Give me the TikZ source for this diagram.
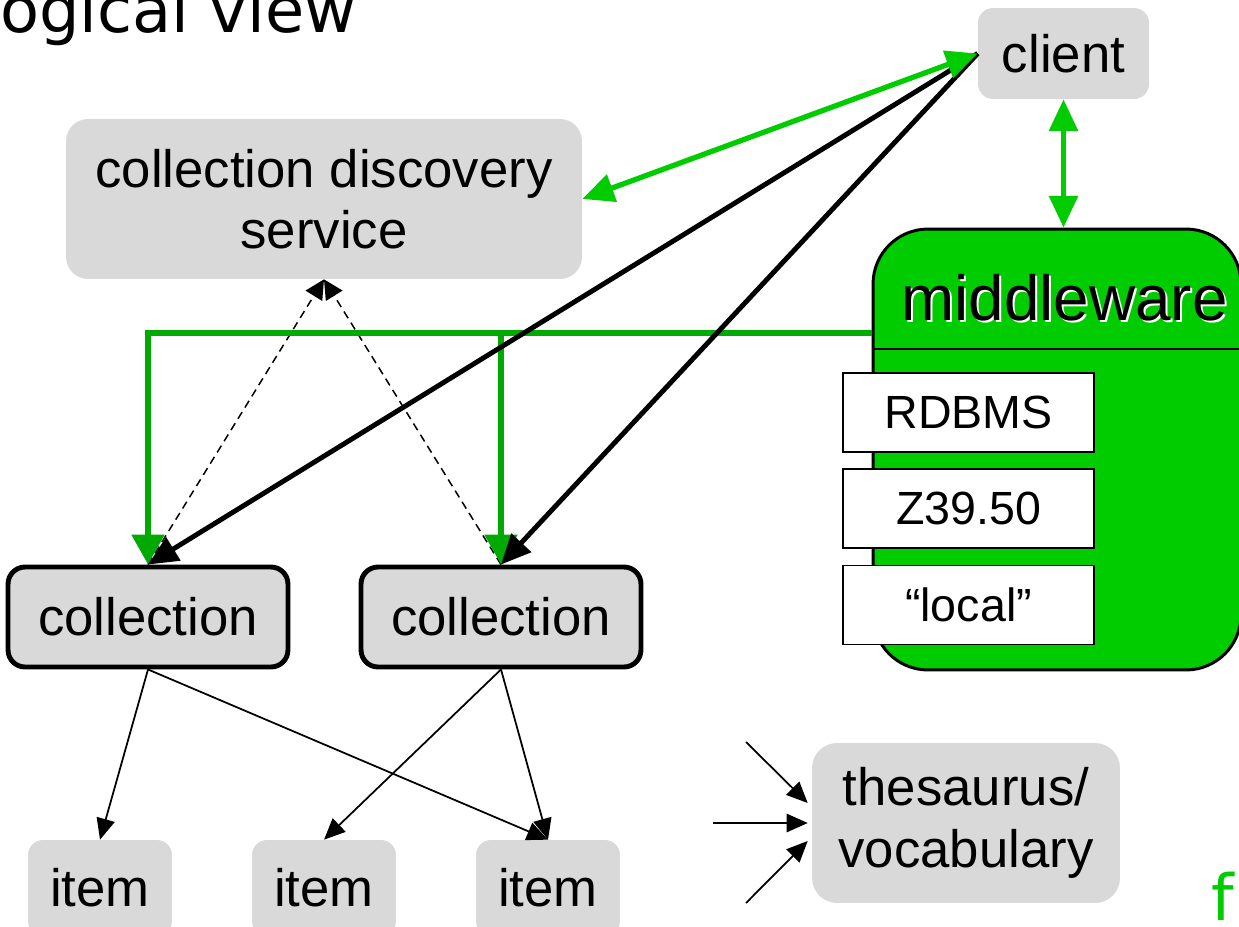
\documentclass[tikz,border=0pt]{standalone}
\usepackage{fontspec}
\setmainfont{Liberation Sans}
\newfontfamily\titlefont{DejaVu Sans}
\usetikzlibrary{arrows.meta}
\definecolor{boxgray}{HTML}{D9D9D9}
\definecolor{brightgreen}{HTML}{00CC00}
\definecolor{darkgreen}{HTML}{00AA00}
\tikzset{
  gbox/.style={fill=boxgray, draw=none, inner sep=0pt, align=center, font=\fontsize{30}{35}\selectfont},
  cbox/.style={fill=boxgray, draw=black, line width=2.8pt, rounded corners=0.34cm, inner sep=0pt,
    minimum width=5.6cm, minimum height=2cm, font=\fontsize{30}{35}\selectfont},
  mwbox/.style={fill=brightgreen, draw=black, line width=1.7pt, rounded corners=1.1cm, inner sep=0pt},
  dbbox/.style={fill=white, draw=black, line width=0.9pt, inner sep=0pt,
    minimum width=5.02cm, minimum height=1.58cm, font=\fontsize{26.5}{30}\selectfont},
  itembox/.style={gbox, rounded corners=0.3cm, minimum width=2.88cm, minimum height=1.92cm},
  bigtitle/.style={font=\titlefont\fontsize{36.3}{40}\selectfont, inner sep=0pt},
  dashedarrow/.style={draw=black, line width=0.85pt, dash pattern=on 4.5pt off 3pt,
    -{Triangle[length=11pt,width=11pt]}},
  treegreen/.style={draw=darkgreen, line width=3.4pt, line join=miter,
    -{Triangle[length=17pt,width=18pt]}},
  blackthick/.style={draw=black, line width=2.8pt, -{Triangle[length=17pt,width=15pt]}},
  lightgreen/.style={draw=brightgreen, line width=3pt,
    {Triangle[length=18pt,width=16pt]}-{Triangle[length=18pt,width=16pt]}},
  thinarrow/.style={draw=black, line width=1pt, -{Triangle[length=12pt,width=10.5pt]}}
}
\begin{document}
\begin{tikzpicture}[x=0.02cm,y=-0.02cm]
\useasboundingbox (0,0) rectangle (1239,926);

% title fragments
\node[bigtitle, anchor=base west] (title) at (0,33) {ogical view};
\node[bigtitle, anchor=base west, text=brightgreen] (fmark) at (1211,920) {f};

% boxes
\node[gbox, rounded corners=0.3cm, minimum width=3.42cm, minimum height=1.82cm] (client) at (1063.5,53.5) {client};
\node[gbox, rounded corners=0.44cm, minimum width=10.32cm, minimum height=3.2cm] (cds) at (324,199) {collection discovery\\service};

\node[mwbox, minimum width=7.36cm, minimum height=8.82cm] (mw) at (1057,449.5) {};
\coordinate (divy) at (0,349);
\draw[line width=0.9pt] (mw.west |- divy) -- (mw.east |- divy);
\node[anchor=base, inner sep=0pt, text=white, font=\fontsize{36.3}{40}\selectfont] (mwshadow) at (1066.5,322) {middleware};
\node[anchor=base, inner sep=0pt, font=\fontsize{36.3}{40}\selectfont] (mwlabel) at (1064.5,320) {middleware};

\node[dbbox] (rdbms) at (968.5,412.5) {RDBMS};
\node[dbbox] (z3950) at (968.5,508.5) {Z39.50};
\node[dbbox] (local) at (968.5,605) {“local”};

\node[cbox] (c1) at (148,617) {collection};
\node[cbox] (c2) at (501,617) {collection};

\node[itembox] (i1) at (100,888) {item};
\node[itembox] (i2) at (324,888) {item};
\node[itembox] (i3) at (548,888) {item};

\node[gbox, rounded corners=0.5cm, minimum width=6.16cm, minimum height=3.2cm] (th) at (966,823) {thesaurus/\\vocabulary};

% dashed links to discovery service
\draw[dashedarrow] (c1.north) -- (cds.south);
\draw[dashedarrow] (c2.north) -- (cds.south);

% green tree from middleware
\coordinate (gy) at (0,333);
\draw[treegreen] (mw.west |- gy) -| (c1.north);
\draw[treegreen] (c2.north |- gy) -- (c2.north);

% black thick from client
\draw[blackthick] (client.west) -- (c1.north);
\draw[blackthick] (client.west) -- (c2.north);

% light green double arrows
\draw[lightgreen] (cds.east) -- (client.west);
\draw[lightgreen] (client.south) -- (client.south |- mw.north);

% collection -> item
\draw[thinarrow] (c1.south) -- (i1.north);
\draw[thinarrow] (c1.south) -- (i3.north);
\draw[thinarrow] (c2.south) -- (i2.north);
\draw[thinarrow] (c2.south) -- (i3.north);

% arrows into thesaurus
\coordinate (ta) at (746,742);
\coordinate (tb) at (713,823);
\coordinate (tc) at (746,903);
\draw[thinarrow] (ta) -- ([xshift=-0.08cm,yshift=0.4cm]th.west);
\draw[thinarrow] (tb) -- ([xshift=-0.08cm]th.west);
\draw[thinarrow] (tc) -- ([xshift=-0.08cm,yshift=-0.36cm]th.west);
\end{tikzpicture}
\end{document}
